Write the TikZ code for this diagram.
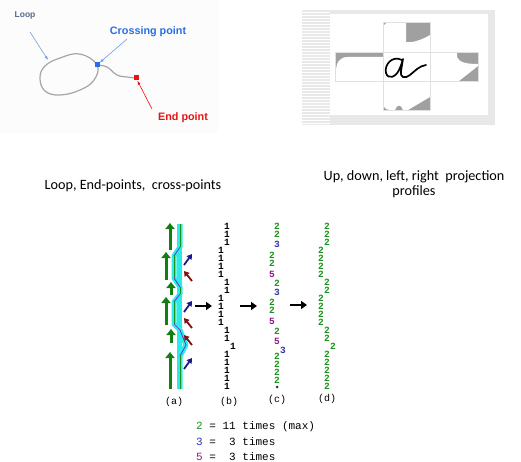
\documentclass[tikz,border=0pt]{standalone}
\usepackage{fontspec}
\setmainfont{Carlito}
\newfontfamily\lblfont{Liberation Sans}
\setmonofont{Liberation Mono}
\usetikzlibrary{arrows.meta}

\definecolor{loopblue}{RGB}{85,105,140}
\definecolor{arrowblue}{RGB}{120,160,215}
\definecolor{crossblue}{RGB}{40,110,230}
\definecolor{endred}{RGB}{230,20,20}
\definecolor{loopgray}{RGB}{165,165,165}
\definecolor{codegreen}{RGB}{30,145,30}
\definecolor{codeblue}{RGB}{50,50,175}
\definecolor{codepurple}{RGB}{140,25,140}
\definecolor{arrgreen}{RGB}{20,125,20}
\definecolor{stripcyan}{RGB}{40,235,235}
\definecolor{zigpurple}{RGB}{110,40,190}
\definecolor{diagblue}{RGB}{25,25,140}
\definecolor{diagred}{RGB}{125,20,20}
\definecolor{dotteal}{RGB}{20,70,70}
\definecolor{profgray}{RGB}{160,160,160}

\tikzset{
  lbl/.style={font=\lblfont\bfseries\fontsize{10.8}{11}\selectfont, inner sep=0pt},
  capt/.style={font=\fontsize{14.2}{15}\selectfont, inner sep=0pt, align=center},
  code/.style={font=\ttfamily\bfseries\fontsize{9.5}{9}\selectfont, inner sep=0pt},
  tag/.style={font=\ttfamily\fontsize{10}{10}\selectfont, inner sep=0pt},
  legend/.style={font=\ttfamily\fontsize{11}{11}\selectfont, inner sep=0pt, anchor=west},
  annot/.style={line width=0.6pt, -{Latex[length=4pt,width=3pt]}},
  greenarr/.style={arrgreen, line width=3pt, -{Triangle[length=6pt,width=9pt]}},
  diagarr/.style={line width=1.8pt, -{Triangle[length=5pt,width=6pt]}},
  bigarr/.style={line width=2.5pt, -{Triangle[length=6pt,width=8pt]}},
  dotsq/.style={inner sep=0pt, minimum size=5pt}
}

\begin{document}
\begin{tikzpicture}[x=1pt,y=-1pt]

\useasboundingbox (0,0) rectangle (521,462);

\fill[black!1] (0,0) rectangle (218,133);

\draw[loopgray, line width=1.2pt] plot[smooth cycle, tension=0.7] coordinates {(97,65) (80,54) (60,58) (45,66) (40,78) (45,91) (60,95) (80,90) (94,80)};
\draw[loopgray, line width=1.2pt] plot[smooth, tension=0.7] coordinates {(97,65) (107,67) (117,75) (127,77) (136,78)};

\node[dotsq, fill=crossblue] (crossPt) at (97,65) {};

\node[dotsq, fill=endred] (endPt) at (136,78) {};

\node[lbl, text=loopblue, font=\lblfont\bfseries\fontsize{8.5}{9}\selectfont] (loopLbl) at (25,15) {Loop};

\node[lbl, text=crossblue] (crossLbl) at (148,32) {Crossing point};

\node[lbl, text=endred] (endLbl) at (183,118) {End point};

\coordinate (loopFrom) at (30,32);
\coordinate (loopTip) at (48,60);
\coordinate (crossFrom) at (127,39);
\coordinate (endFrom) at (152,109);

\draw[annot, arrowblue] (loopFrom) -- (loopTip);
\draw[annot, crossblue!70] (crossFrom) -- (crossPt);
\draw[annot, endred] (endFrom) -- (endPt);

\fill[black!9] (302,10) rectangle (495,125);
\foreach \s in {12,15,...,123}
  \draw[white, line width=0.6pt] (302,\s) -- (330,\s);
\fill[white] (330,14) rectangle (488,115);

\fill[profgray] (383,22) rectangle (430,52);
\fill[white] (383,52) -- (383,30) .. controls (383,24) and (386,22) .. (392,22) -- (406,22) -- (406,42) .. controls (412,43) and (422,40) .. (430,35) -- (430,52) -- cycle;

\fill[profgray] (383,81) rectangle (430,110);
\fill[white] (383,81) -- (383,102) .. controls (383,108) and (386,110) .. (391,110) -- (395,110) .. controls (397,104) and (401,104) .. (403,110) -- (408,110) -- (430,97) -- (430,81) -- cycle;

\fill[profgray] (335,52) rectangle (383,81);
\fill[white] (383,57) -- (348,57) .. controls (339,57) and (336,63) .. (336,72) -- (335,81) -- (383,81) -- cycle;

\fill[profgray] (430,52) rectangle (478,81);
\fill[white] (430,52) -- (457,52) -- (457,57) .. controls (459,62) and (465,64) .. (478,64) -- (478,66) -- (459,81) -- (430,81) -- cycle;

\draw[black!12, line width=0.4pt] (383,22) rectangle (430,110);
\draw[black!12, line width=0.4pt] (335,52) rectangle (478,81);

\draw[black, line width=1.7pt, line cap=round, line join=round] (402,60) .. controls (392,55) and (384,65) .. (386,73) .. controls (388,80) and (396,77) .. (399,70) .. controls (401,66) and (402,62) .. (403,59) -- (401,71) .. controls (400,78) and (405,79) .. (410,75) .. controls (415,71) and (419,66) .. (426,65);

\node[capt] (capLeft) at (133,186) {Loop, End-points,\ \ cross-points};

\node[capt] (capRight) at (414,184) {Up, down, left, right\ \ projection\\profiles};

\draw[stripcyan, line width=5pt] (179.5,224) -- (179.5,389);
\draw[stripcyan, line width=5pt, line join=round] (180,224) -- (180,247) -- (174,256) -- (174,278) -- (180,287) -- (180,294) -- (174,302) -- (174,324) -- (180,330) -- (186,345) -- (180,356) -- (180,389);
\draw[codegreen, line width=0.7pt] (180,224) -- (180,247) (174,256) -- (174,278) (180,287) -- (180,294) (174,302) -- (174,324) (180,356) -- (180,389);
\draw[zigpurple, line width=0.7pt] (180,247) -- (174,256) (174,278) -- (180,287) (180,294) -- (174,302) (174,324) -- (180,330) -- (186,345) -- (180,356);

\draw[greenarr] (170,250) -- (170,223);
\draw[greenarr] (166,280) -- (166,252);
\draw[greenarr] (171,295) -- (171,282);
\draw[greenarr] (166,325) -- (166,297);
\draw[greenarr] (171,343) -- (171,329);
\draw[greenarr] (170,389) -- (170,352);

\draw[diagarr, diagblue] (184,265) -- (192,254);
\draw[diagarr, diagred] (192,281) -- (184,271);
\draw[diagarr, diagblue] (184,312) -- (192,301);
\draw[diagarr, diagred] (192,328) -- (184,318);
\draw[diagarr, diagred] (192,345) -- (184,335);
\draw[diagarr, diagblue] (184,369) -- (192,358);

\foreach \yy/\xx [count=\i] in {226/227,234/227,242/227,250/221,258/221,266/221,274/221,282/227,290/227,298/221,306/221,314/221,322/221,330/227,338/227,346/233,354/227,362/227,370/227,378/227,386/227}
{
  \node[code] (b\i) at (\xx,\yy) {1};
  \node[code, text=codegreen] (d\i) at (\xx+100,\yy) {2};
}

\foreach \yy/\xx/\cc/\dd [count=\i] in {226/277/codegreen/2,234/277/codegreen/2,244/277/codeblue/3,255/272/codegreen/2,263/272/codegreen/2,274/272/codepurple/5,283/277/codegreen/2,292/277/codeblue/3,302/272/codegreen/2,310/272/codegreen/2,321/272/codepurple/5,331/277/codegreen/2,341/277/codepurple/5,350/283/codeblue/3,356/277/codegreen/2,364/277/codegreen/2,372/277/codegreen/2,380/277/codegreen/2}
  \node[code, text=\cc] (c\i) at (\xx,\yy) {\dd};

\node[circle, fill=dotteal, inner sep=0pt, minimum size=3pt] (cEnd) at (277,387) {};

\draw[bigarr] (195,306) -- (212,306);
\draw[bigarr] (240,306) -- (257,306);
\draw[bigarr] (290,305) -- (307,305);

\node[tag] (tagA) at (174,402) {(a)};
\node[tag] (tagB) at (229,402) {(b)};
\node[tag] (tagC) at (277,400) {(c)};
\node[tag] (tagD) at (327,399) {(d)};

\node[legend] (leg1) at (196,427) {\textcolor{codegreen}{2} = 11 times (max)};
\node[legend] (leg2) at (196,442) {\textcolor{codeblue}{3} =\ \ 3 times};
\node[legend] (leg3) at (196,457) {\textcolor{codepurple}{5} =\ \ 3 times};

\end{tikzpicture}
\end{document}
